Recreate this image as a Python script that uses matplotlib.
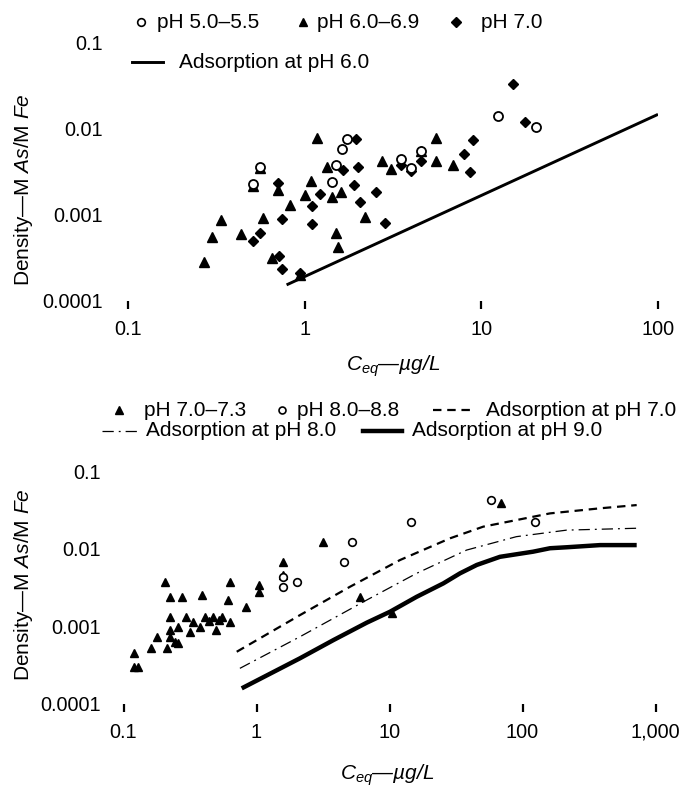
import matplotlib
matplotlib.use("Agg")
import matplotlib.pyplot as plt
from matplotlib.lines import Line2D
from matplotlib.ticker import FixedLocator, NullLocator, FixedFormatter

plt.rcParams['font.family'] = ['Liberation Sans', 'DejaVu Sans']
plt.rcParams['mathtext.fontset'] = 'custom'
plt.rcParams['mathtext.rm'] = 'Liberation Sans'
plt.rcParams['mathtext.it'] = 'Liberation Sans:italic'

# ---------------- Top panel data ----------------
top_ph55_x = [0.556, 0.51, 1.74, 1.63, 1.5, 1.42, 3.53, 4.02, 4.53, 12.5, 20.5]
top_ph55_y = [3.65e-3, 2.28e-3, 7.66e-3, 5.85e-3, 3.81e-3, 2.4e-3, 4.44e-3, 3.49e-3, 5.6e-3, 0.0143, 0.0106]

top_ph69_x = [1.18, 1.33, 1.09, 1.0, 1.42, 1.6, 0.83, 0.58, 0.335, 0.297, 0.438, 0.269, 0.656,
              1.51, 1.54, 2.19, 0.706, 0.94, 5.51, 2.75, 3.1, 4.53, 5.56, 6.9, 0.556, 0.51]
top_ph69_y = [7.9e-3, 3.59e-3, 2.5e-3, 1.71e-3, 1.61e-3, 1.87e-3, 1.31e-3, 9.2e-4, 8.7e-4, 5.6e-4,
              6.0e-4, 2.86e-4, 3.14e-4, 6.2e-4, 4.2e-4, 9.5e-4, 1.95e-3, 2.0e-4, 7.9e-3, 4.27e-3,
              3.4e-3, 5.6e-3, 4.27e-3, 3.81e-3, 3.5e-3, 2.2e-3]

top_ph70_x = [1.94, 1.65, 2.0, 1.89, 1.22, 1.1, 2.05, 2.52, 0.748, 1.1, 0.556, 0.51, 0.72, 0.748,
              0.71, 0.94, 3.49, 4.53, 4.02, 8.96, 7.97, 8.66, 2.84, 17.7, 15.1]
top_ph70_y = [7.58e-3, 3.34e-3, 3.65e-3, 2.25e-3, 1.74e-3, 1.27e-3, 1.42e-3, 1.87e-3, 8.97e-4,
              7.8e-4, 6.1e-4, 4.99e-4, 3.33e-4, 2.34e-4, 2.34e-3, 2.1e-4, 3.81e-3, 4.24e-3,
              3.25e-3, 7.45e-3, 5.12e-3, 3.14e-3, 8.0e-4, 0.012, 0.0333]

top_ads60_x = [0.79, 100]
top_ads60_y = [1.54e-4, 0.0148]

top_xticks = [0.1, 1, 10, 100]
top_xlabels = ['0.1', '1', '10', '100']
yticks = [1e-4, 1e-3, 1e-2, 1e-1]
ylabels = ['0.0001', '0.001', '0.01', '0.1']

# ---------------- Bottom panel data ----------------
bot_ph73_x = [0.12, 0.119, 0.129, 0.16, 0.18, 0.205, 0.224, 0.274, 0.387, 0.224, 0.295, 0.224,
              0.258, 0.224, 0.244, 0.258, 0.213, 0.316, 0.335, 0.376, 0.41, 0.44, 0.473, 0.5,
              0.525, 0.547, 0.63, 0.63, 0.614, 0.834, 1.04, 1.04, 1.59, 1.57, 3.18, 6.0, 10.4, 68.9]
bot_ph73_y = [4.45e-4, 2.99e-4, 2.99e-4, 5.16e-4, 7.3e-4, 3.76e-3, 2.4e-3, 2.4e-3, 2.53e-3,
              1.32e-3, 1.32e-3, 8.9e-4, 9.8e-4, 7.3e-4, 6.3e-4, 6.0e-4, 5.3e-4, 8.5e-4, 1.14e-3,
              9.7e-4, 1.32e-3, 1.18e-3, 1.32e-3, 8.9e-4, 1.2e-3, 1.32e-3, 1.14e-3, 3.76e-3,
              2.18e-3, 1.79e-3, 3.4e-3, 2.79e-3, 6.8e-3, 4.6e-3, 0.0124, 2.4e-3, 1.47e-3, 0.0388]

bot_ph88_x = [1.57, 1.59, 2.0, 4.57, 5.2, 14.5, 57.7, 124]
bot_ph88_y = [4.3e-3, 3.24e-3, 3.76e-3, 6.7e-3, 0.0124, 0.0225, 0.0429, 0.0225]

ads70_x = [0.71, 2.12, 5.05, 12, 28.5, 50.7, 90, 161, 383, 722]
ads70_y = [4.67e-4, 1.39e-3, 3.24e-3, 7.18e-3, 1.37e-2, 1.94e-2, 2.36e-2, 2.88e-2, 3.35e-2, 3.69e-2]

ads80_x = [0.75, 2.12, 6.74, 16, 38, 90, 215, 722]
ads80_y = [2.85e-4, 7.3e-4, 2.18e-3, 4.83e-3, 9.66e-3, 1.44e-2, 1.75e-2, 1.85e-2]

ads90_x = [0.774, 2.12, 3.78, 6.74, 10.1, 16, 25.4, 33.9, 45.3, 67.7, 120, 161, 215, 383, 722]
ads90_y = [1.57e-4, 3.84e-4, 6.6e-4, 1.11e-3, 1.54e-3, 2.4e-3, 3.58e-3, 4.83e-3, 6.2e-3,
           7.9e-3, 9.2e-3, 1.02e-2, 1.05e-2, 1.12e-2, 1.12e-2]

bot_xticks = [0.1, 1, 10, 100, 1000]
bot_xlabels = ['0.1', '1', '10', '100', '1,000']

# ---------------- Figure ----------------
W, H = 684, 790
fig = plt.figure(figsize=(W / 100, H / 100), dpi=100)

def fx(px):
    return px / W

def fy(py):
    return 1 - py / H

FS = 15
TFS = 14.3

def style_axes(ax, xt, xl, ypad):
    ax.set_xscale('log')
    ax.set_yscale('log')
    for s in ax.spines.values():
        s.set_visible(False)
    ax.xaxis.set_major_locator(FixedLocator(xt))
    ax.xaxis.set_major_formatter(FixedFormatter(xl))
    ax.xaxis.set_minor_locator(NullLocator())
    ax.yaxis.set_major_locator(FixedLocator(yticks))
    ax.yaxis.set_major_formatter(FixedFormatter(ylabels))
    ax.yaxis.set_minor_locator(NullLocator())
    ax.tick_params(axis='x', direction='out', length=6, width=1.6, pad=8, labelsize=TFS)
    ax.tick_params(axis='y', length=0, pad=ypad, labelsize=TFS)
    ax.patch.set_visible(False)

# Top axes
ax1 = fig.add_axes([fx(128), fy(301), fx(658) - fx(128), fy(43) - fy(301)])
ax1.set_xlim(0.1, 100)
ax1.set_ylim(1e-4, 0.1)
style_axes(ax1, top_xticks, top_xlabels, 18)

ax1.plot(top_ads60_x, top_ads60_y, color='black', lw=2.1, solid_capstyle='butt')
ax1.plot(top_ph69_x, top_ph69_y, ls='none', marker='^', ms=6.5, color='black', clip_on=False)
ax1.plot(top_ph70_x, top_ph70_y, ls='none', marker='D', ms=5.5, color='black', clip_on=False)
ax1.plot(top_ph55_x, top_ph55_y, ls='none', marker='o', ms=6.5, mfc='white', mec='black',
         mew=1.3, clip_on=False)

# Bottom axes
ax2 = fig.add_axes([fx(123.5), fy(703.5), fx(655.5) - fx(123.5), fy(471.6) - fy(703.5)])
ax2.set_xlim(0.1, 1000)
ax2.set_ylim(1e-4, 0.1)
style_axes(ax2, bot_xticks, bot_xlabels, 16)

ax2.plot(ads70_x, ads70_y, color='black', lw=1.6, ls=(0, (3.8, 2.6)))
ax2.plot(ads80_x, ads80_y, color='black', lw=0.9, ls=(0, (9, 4, 1.5, 4)))
ax2.plot(ads90_x, ads90_y, color='black', lw=3.2, solid_capstyle='butt')
ax2.plot(bot_ph73_x, bot_ph73_y, ls='none', marker='^', ms=5.8, color='black', clip_on=False)
ax2.plot(bot_ph88_x, bot_ph88_y, ls='none', marker='o', ms=5.5, mfc='white', mec='black',
         mew=1.2, clip_on=False)

# Axis labels
ylab = r'Density—M $As$/M $Fe$'
fig.text(fx(24), fy(190), ylab, rotation=90, ha='center', va='center', fontsize=FS)
fig.text(fx(24), fy(585), ylab, rotation=90, ha='center', va='center', fontsize=FS)
xlab = r'$C_{eq}$—µg/L'
fig.text(fx(393), fy(366), xlab, ha='center', va='center', fontsize=FS, style='italic')
fig.text(fx(387), fy(775), xlab, ha='center', va='center', fontsize=FS, style='italic')

# Legends (drawn manually)
def leg_marker(px, py, **kw):
    fig.add_artist(Line2D([fx(px)], [fy(py)], transform=fig.transFigure, ls='none', **kw))

def leg_line(px0, px1, py, **kw):
    fig.add_artist(Line2D([fx(px0), fx(px1)], [fy(py), fy(py)], transform=fig.transFigure, **kw))

def leg_text(px, py, s):
    fig.text(fx(px), fy(py), s, ha='left', va='center', fontsize=FS)

# top legend
leg_marker(141, 22, marker='o', ms=5.5, mfc='white', mec='black', mew=1.2)
leg_text(157, 22, 'pH 5.0–5.5')
leg_marker(303, 22, marker='^', ms=5.5, color='black')
leg_text(317, 22, 'pH 6.0–6.9')
leg_marker(456, 22, marker='D', ms=5, color='black')
leg_text(481, 22, 'pH 7.0')
leg_line(132, 163, 62, color='black', lw=2.1)
leg_text(179, 62, 'Adsorption at pH 6.0')

# bottom legend
leg_marker(119, 410, marker='^', ms=5.5, color='black')
leg_text(144, 410, 'pH 7.0–7.3')
leg_marker(282, 410, marker='o', ms=5, mfc='white', mec='black', mew=1.2)
leg_text(297, 410, 'pH 8.0–8.8')
leg_line(433, 472, 410, color='black', lw=1.6, ls=(0, (3.8, 2.6)))
leg_text(486, 410, 'Adsorption at pH 7.0')
leg_line(102, 138, 431, color='black', lw=0.9, ls=(0, (9, 4, 1.5, 4)))
leg_text(146, 431, 'Adsorption at pH 8.0')
leg_line(363, 402, 431, color='black', lw=3.2)
leg_text(412, 431, 'Adsorption at pH 9.0')

fig.savefig('out.png', dpi=100)
